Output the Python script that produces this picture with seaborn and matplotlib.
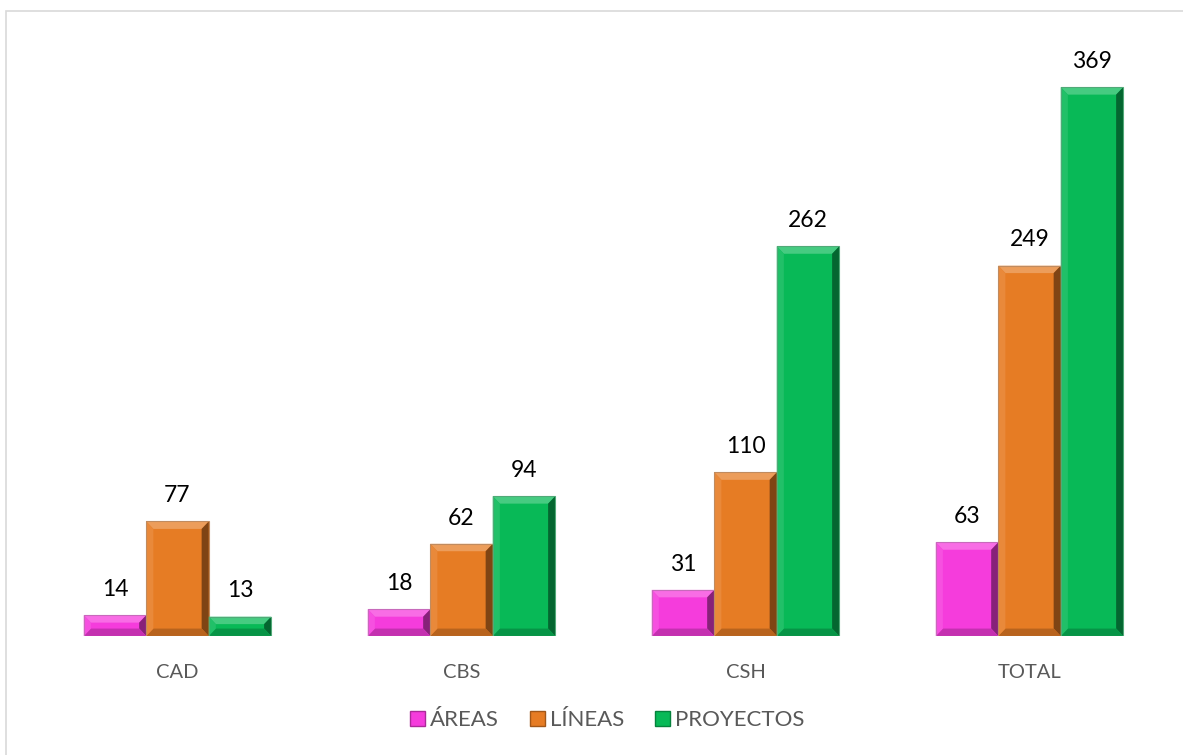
import pandas as pd
import numpy as np
import matplotlib.pyplot as plt
import seaborn as sns
from matplotlib.patches import Polygon, Patch, Rectangle
from matplotlib.colors import to_rgb

# datos del gráfico
categorias = ['CAD', 'CBS', 'CSH', 'TOTAL']
series = ['ÁREAS', 'LÍNEAS', 'PROYECTOS']
areas = [14, 18, 31, 63]
lineas = [77, 62, 110, 249]
proyectos = [13, 94, 262, 369]
colores = ['#F53CDC', '#E67C24', '#08B957']

df = pd.DataFrame({
    'Categoria': categorias * 3,
    'Serie': [s for s in series for _ in categorias],
    'Valor': areas + lineas + proyectos,
})

sns.set_theme(style='white')
plt.rcParams['font.family'] = ['Lato', 'DejaVu Sans']

fig = plt.figure(figsize=(11.83, 7.55), dpi=100)
ax = fig.add_axes([0.0300, 0.1576, 0.9603, 0.788])

sns.barplot(data=df, x='Categoria', y='Valor', hue='Serie', order=categorias,
            hue_order=series, palette=colores, width=0.66, gap=0,
            saturation=1, ax=ax, legend=False, edgecolor='none')

ax.set_ylim(0, 400)
ax.set_xlim(-0.5, 3.5)


def mezclar(c, otro, t):
    c = np.array(to_rgb(c))
    return tuple(c * (1 - t) + np.array(otro) * t)


# efecto biselado a partir de las barras dibujadas
bx = 0.025
by = 5.0
for cont, col in zip(ax.containers, colores):
    for p in cont.patches:
        x0, y0 = p.get_x(), p.get_y()
        w, h = p.get_width(), p.get_height()
        x1, y1 = x0 + w, y0 + h
        b = min(by, h / 2.2)
        claro = mezclar(col, (1, 1, 1), 0.25)
        oscuro = mezclar(col, (0, 0, 0), 0.45)
        medio = mezclar(col, (0, 0, 0), 0.2)
        ax.add_patch(Polygon([(x0, y1), (x1, y1), (x1 - bx, y1 - b), (x0 + bx, y1 - b)],
                             closed=True, facecolor=claro, edgecolor='none'))
        ax.add_patch(Polygon([(x1, y1), (x1, y0), (x1 - bx, y0 + b), (x1 - bx, y1 - b)],
                             closed=True, facecolor=oscuro, edgecolor='none'))
        ax.add_patch(Polygon([(x0, y0), (x1, y0), (x1 - bx, y0 + b), (x0 + bx, y0 + b)],
                             closed=True, facecolor=medio, edgecolor='none'))
        ax.add_patch(Polygon([(x0, y0), (x0, y1), (x0 + bx, y1 - b), (x0 + bx, y0 + b)],
                             closed=True, facecolor=mezclar(col, (1, 1, 1), 0.1), edgecolor='none'))
        ax.add_patch(Rectangle((x0, y0), w, h, facecolor='none',
                               edgecolor=mezclar(col, (0.6, 0.6, 0.6), 0.5), linewidth=0.8))
    ax.bar_label(cont, padding=11, fontsize=16.5, color='black')

sns.despine(ax=ax, left=True, bottom=True)
ax.set_yticks([])
ax.set_xlabel('')
ax.set_ylabel('')
ax.tick_params(axis='x', length=0, labelsize=14.5, labelcolor='#595959', pad=20)

handles = [Patch(facecolor=c, edgecolor=mezclar(c, (0, 0, 0), 0.3)) for c in colores]
fig.legend(handles, series, loc='center', bbox_to_anchor=(0.5135, 0.046), ncol=3,
           frameon=False, fontsize=16, labelcolor='#595959', handlelength=0.65,
           handleheight=0.65, handletextpad=0.25, columnspacing=1.4)

# borde del área del gráfico
fig.patches.append(Rectangle((6 / 1183, -0.1), 1.2, 1 - 11 / 755 + 0.1,
                             transform=fig.transFigure, facecolor='none',
                             edgecolor='#D9D9D9', linewidth=1.2))

fig.savefig('out.png', dpi=100)
